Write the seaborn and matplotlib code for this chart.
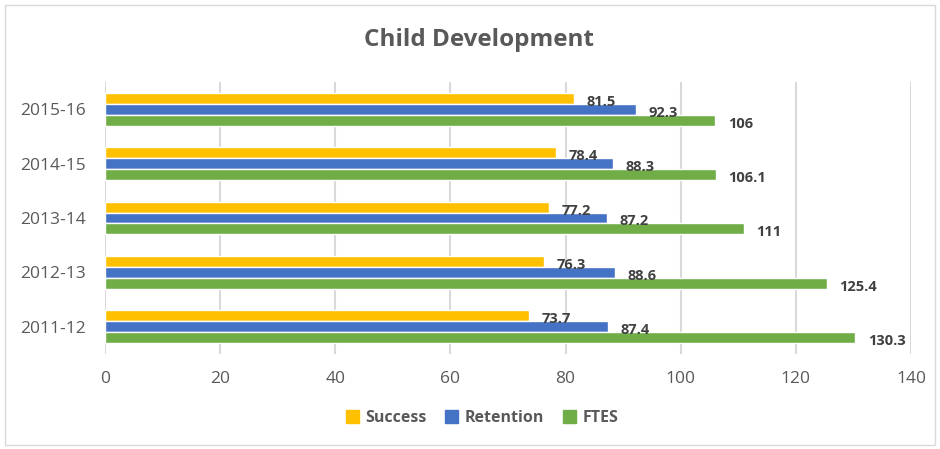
import matplotlib.pyplot as plt
import matplotlib.patches as mpatches
import pandas as pd
import seaborn as sns

years = ["2015-16", "2014-15", "2013-14", "2012-13", "2011-12"]
success = [81.5, 78.4, 77.2, 76.3, 73.7]
retention = [92.3, 88.3, 87.2, 88.6, 87.4]
ftes = [106, 106.1, 111, 125.4, 130.3]
series = ["Success", "Retention", "FTES"]
colors = ["#FFC000", "#4472C4", "#70AD47"]

df = pd.DataFrame({"year": years, "Success": success, "Retention": retention, "FTES": ftes})
long_df = df.melt(id_vars="year", var_name="series", value_name="value")

sns.set_style("white")
plt.rcParams["font.family"] = ["Open Sans", "DejaVu Sans"]

fig = plt.figure(figsize=(9.4, 4.49), dpi=100)
ax = fig.add_axes([105 / 940, 1 - 354 / 449, 806 / 940, 272 / 449])

sns.barplot(data=long_df, y="year", x="value", hue="series", order=years,
            hue_order=series, palette=colors, orient="h", width=0.6,
            saturation=1, ax=ax, legend=False)

# value labels, nudged down a little like the original chart
for container, vals in zip(ax.containers, [success, retention, ftes]):
    labels = [f"{v:g}" for v in vals]
    texts = ax.bar_label(container, labels=labels, padding=9, fontsize=10.5,
                         fontweight="bold", color="#404040")
    for t in texts:
        t.xyann = (9, -2.5)

ax.set_xlim(0, 140)
ax.set_xticks(range(0, 141, 20))
ax.grid(axis="x", color="#D9D9D9", linewidth=1.5)
ax.set_axisbelow(True)
for s in ax.spines.values():
    s.set_visible(False)
ax.set_xlabel("")
ax.set_ylabel("")
ax.tick_params(axis="both", length=0, labelsize=12.5, colors="#595959")
ax.tick_params(axis="x", pad=12)
ax.tick_params(axis="y", pad=14)

fig.suptitle("Child Development", x=479 / 940, y=1 - 40 / 449,
             va="center", fontsize=17.5, fontweight="bold", color="#595959")

handles = [mpatches.Patch(color=c, label=s) for s, c in zip(series, colors)]
leg = fig.legend(handles=handles, loc="center", bbox_to_anchor=(482 / 940, 1 - 418 / 449),
                 ncol=3, frameon=False, handlelength=0.8, handleheight=0.8,
                 handletextpad=0.4, columnspacing=1.2,
                 prop={"size": 11.5, "weight": "bold"})
for t in leg.get_texts():
    t.set_color("#595959")

fig.patches.append(mpatches.Rectangle((5 / 940, 4 / 449), 930 / 940, 440 / 449,
                                      transform=fig.transFigure, fill=False,
                                      edgecolor="#D9D9D9", linewidth=1))

fig.savefig("out.png", dpi=100)
